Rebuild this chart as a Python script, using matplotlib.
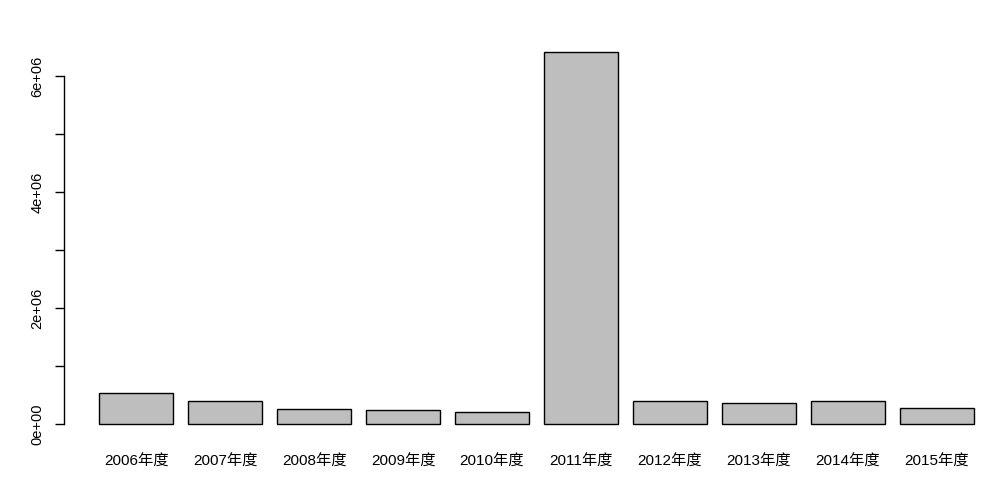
import matplotlib
matplotlib.use("Agg")
import matplotlib.pyplot as plt
from matplotlib.ticker import FixedLocator

categories = ["2006年度", "2007年度", "2008年度", "2009年度", "2010年度",
              "2011年度", "2012年度", "2013年度", "2014年度", "2015年度"]
values = [534000, 397000, 259000, 241000, 207000,
          6414000, 397000, 362000, 397000, 276000]
yticks = [0, 1e6, 2e6, 3e6, 4e6, 5e6, 6e6]
ytick_labels = ["0e+00", "", "2e+06", "", "4e+06", "", "6e+06"]

W, H = 998, 478
fig = plt.figure(figsize=(W / 100, H / 100), dpi=100)
left_px, right_px, top_px, bot_px = 64, 998, 30, 440
ax = fig.add_axes([left_px / W, 1 - bot_px / H, (right_px - left_px) / W, (bot_px - top_px) / H])

fam = ["Liberation Sans", "Noto Sans CJK SC"]
yfam = ["Liberation Sans Narrow", "Liberation Sans"]
pos = [0.7 + 1.2 * i for i in range(len(values))]
ax.bar(pos, values, width=1.0, color="#bebebe", edgecolor="black", linewidth=1.0)

pxu = 74.15
ax.set_xlim(-0.272, -0.272 + (right_px - left_px) / pxu)
pym = 58.05 / 1e6
ax.set_ylim(-(bot_px - 424.3) / pym, (424.3 - top_px) / pym)

for s in ["top", "right", "bottom"]:
    ax.spines[s].set_visible(False)
ax.spines["left"].set_bounds(0, 6e6)
ax.spines["left"].set_linewidth(1.0)

ax.yaxis.set_major_locator(FixedLocator(yticks))
ax.set_yticklabels(ytick_labels, rotation=90, va="center", family=yfam, fontsize=10.5)
ax.tick_params(axis="y", length=6.5, width=1.0, pad=7.5)
ax.set_xticks(pos)
ax.set_xticklabels(categories, family=fam, fontsize=11)
ax.tick_params(axis="x", length=0, pad=10.5)

fig.savefig("out.png", dpi=100)
